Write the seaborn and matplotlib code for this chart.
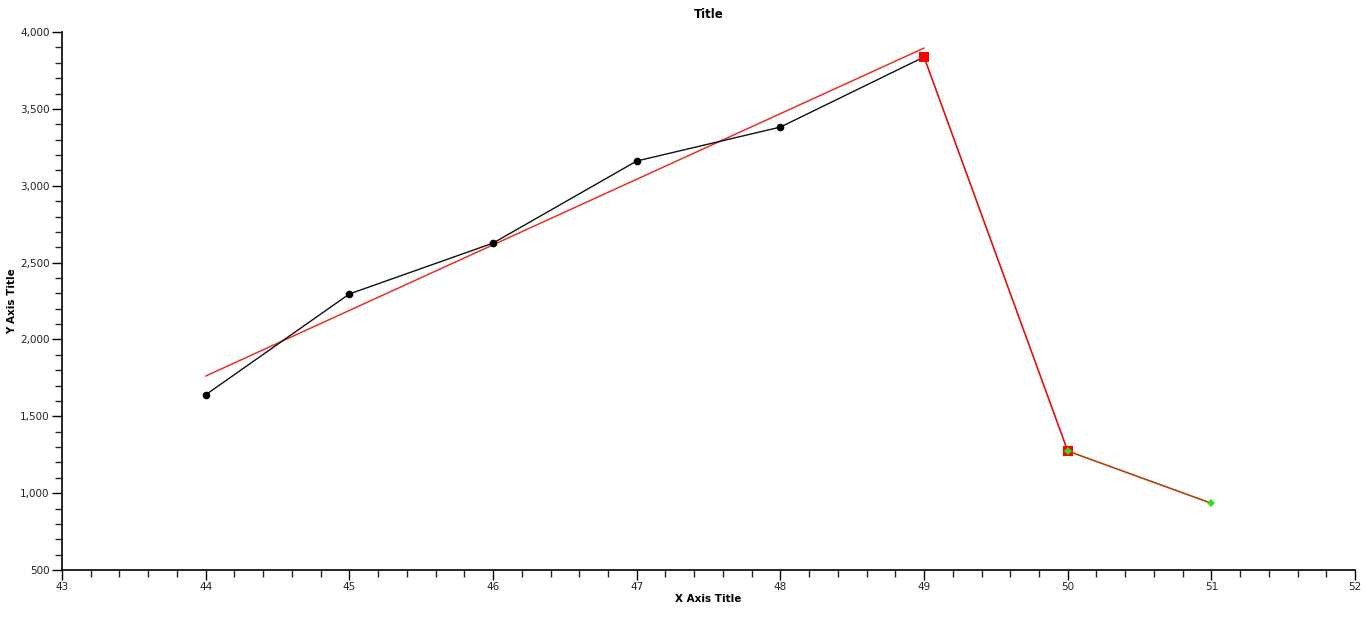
import numpy as np
import pandas as pd
import matplotlib
matplotlib.use("Agg")
import matplotlib.pyplot as plt
import seaborn as sns
from matplotlib.ticker import MultipleLocator, FuncFormatter

# datos
main_x = [44, 45, 46, 47, 48, 49]
main_y = [1640, 2296, 2627, 3161, 3382, 3838]

trend_x = [44, 49]
trend_y = [1762, 3896]

drop_x = [49, 50]
drop_y = [3838, 1274]

tail_x = [50, 51]
tail_y = [1274, 934]

sns.set_style("ticks")
plt.rcParams['font.family'] = ['DejaVu Sans']
plt.rcParams['text.color'] = 'black'
plt.rcParams['axes.labelcolor'] = 'black'

fig = plt.figure(figsize=(13.66, 6.17), dpi=100)
ax = fig.add_axes([0.0454, 0.0762, 0.9466, 0.8718])

df_main = pd.DataFrame({'x': main_x, 'y': main_y})
df_trend = pd.DataFrame({'x': trend_x, 'y': trend_y})
df_drop = pd.DataFrame({'x': drop_x, 'y': drop_y})
df_tail = pd.DataFrame({'x': tail_x, 'y': tail_y})

sns.lineplot(data=df_trend, x='x', y='y', ax=ax, color='#e8302a', linewidth=1.1)
sns.lineplot(data=df_main, x='x', y='y', ax=ax, color='#111111', linewidth=1.0,
             marker='o', markersize=5.5, markeredgewidth=0, markerfacecolor='black')
sns.lineplot(data=df_drop, x='x', y='y', ax=ax, color='#e01010', linewidth=1.2,
             marker='s', markersize=7, markeredgewidth=0, markerfacecolor='#ff0000')
sns.lineplot(data=df_tail, x='x', y='y', ax=ax, color='#b4400a', linewidth=1.2,
             marker='D', markersize=4.5, markeredgewidth=0, markerfacecolor='#33dd11')

ax.set_xlim(43, 52)
ax.set_ylim(500, 4000)
ax.xaxis.set_major_locator(MultipleLocator(1))
ax.xaxis.set_minor_locator(MultipleLocator(0.2))
ax.yaxis.set_major_locator(MultipleLocator(500))
ax.yaxis.set_minor_locator(MultipleLocator(100))
ax.yaxis.set_major_formatter(FuncFormatter(lambda v, p: f'{int(v):,}'))

ax.tick_params(axis='both', which='major', length=7, width=1, labelsize=7.5, pad=2,
               colors='black', labelcolor='#222222')
ax.tick_params(axis='both', which='minor', length=5, width=1)
sns.despine(ax=ax)
for s in ['left', 'bottom']:
    ax.spines[s].set_linewidth(1.2)
    ax.spines[s].set_color('black')

ax.set_title('Title', fontsize=8.5, fontweight='bold', pad=10, color='black')
ax.set_xlabel('X Axis Title', fontsize=7.5, fontweight='bold', labelpad=1)
ax.set_ylabel('Y Axis Title', fontsize=7.5, fontweight='bold', labelpad=2)

plt.savefig('out.png', dpi=100)
